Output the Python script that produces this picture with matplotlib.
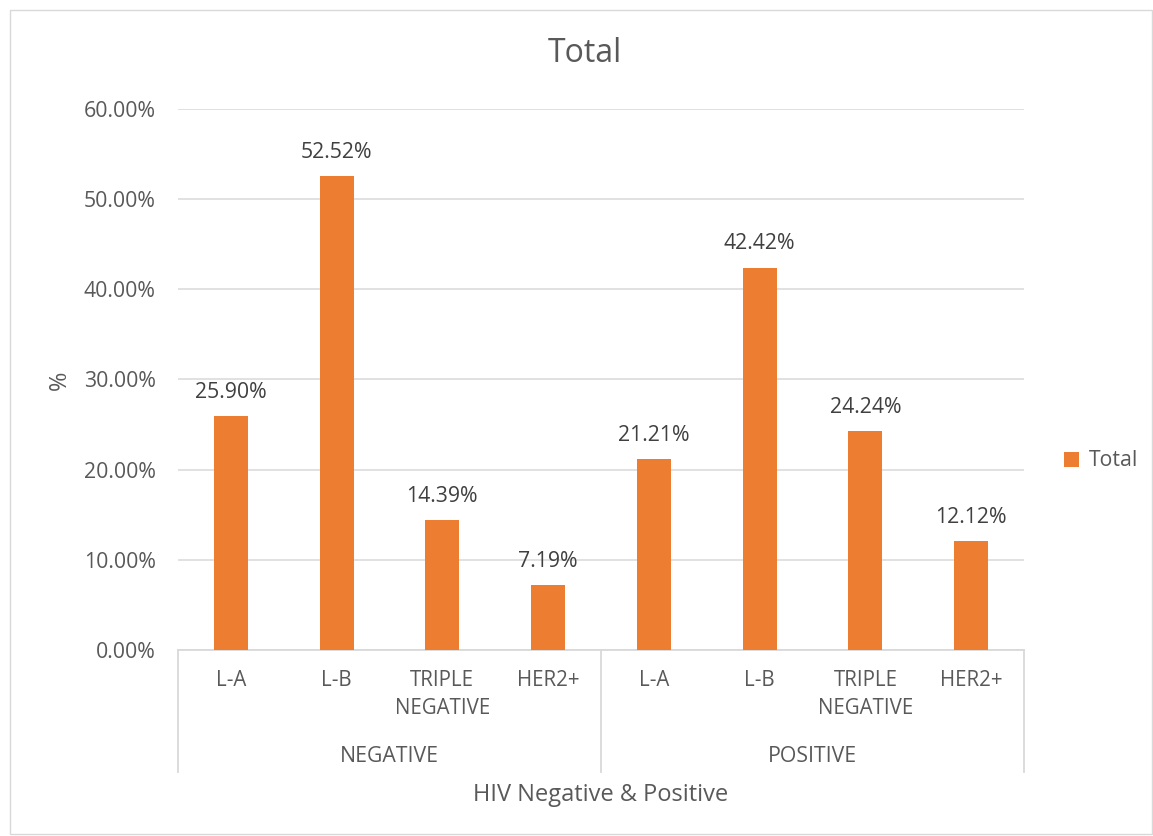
import matplotlib
matplotlib.use("Agg")
import matplotlib.pyplot as plt
from matplotlib.lines import Line2D
from matplotlib.patches import Rectangle, Patch
import matplotlib.transforms as mtransforms

groups = ["NEGATIVE", "POSITIVE"]
subtypes = ["L-A", "L-B", "TRIPLE\nNEGATIVE", "HER2+"]
values_negative = [25.90, 52.52, 14.39, 7.19]
values_positive = [21.21, 42.42, 24.24, 12.12]
yticks = [0, 10, 20, 30, 40, 50, 60]

W, H = 1153, 836
FONT = "Open Sans"
TXT = "#595959"
BAR = "#ED7D31"
GRID = "#D9D9D9"
FS = 15.3

plt.rcParams['font.family'] = [FONT, 'DejaVu Sans']

fig = plt.figure(figsize=(W / 100, H / 100), dpi=100)

def fx(px):
    return px / W

def fy(py):
    return 1 - py / H

ax = fig.add_axes([fx(178), fy(650), fx(1024) - fx(178), fy(109) - fy(650)])

values = values_negative + values_positive
labels = subtypes + subtypes
x = list(range(len(values)))
ax.bar(x, values, width=0.32, color=BAR, zorder=3, label="Total")
ax.set_xlim(-0.5, len(values) - 0.5)
ax.set_ylim(0, 60)
ax.set_yticks(yticks)
ax.set_yticklabels([f"{v:.2f}%" for v in yticks], fontsize=FS, color=TXT)
ax.tick_params(axis='y', length=0, pad=16)
ax.set_xticks([])
ax.grid(axis='y', color=GRID, linewidth=1.1, zorder=0)
for s in ["top", "right", "left"]:
    ax.spines[s].set_visible(False)
ax.spines["bottom"].set_color(GRID)
ax.spines["bottom"].set_linewidth(1.3)

for xi, v in zip(x, values):
    ax.annotate(f"{v:.2f}%", (xi, v), xytext=(0, 17), textcoords="offset points",
                ha="center", va="center", fontsize=FS, color="#404040")

# multi-level category axis
trans = mtransforms.blended_transform_factory(ax.transData, fig.transFigure)
for xi, lab in zip(x, labels):
    fig.text(xi, fy(670), lab, transform=trans, ha="center", va="top",
             fontsize=FS - 0.5, color=TXT, linespacing=1.45)
for gi, g in enumerate(groups):
    center = gi * 4 + 1.5
    fig.text(center, fy(756), g, transform=trans, ha="center", va="center",
             fontsize=FS, color=TXT)
for b in [-0.5, 3.5, 7.5]:
    fig.add_artist(Line2D([b, b], [fy(650), fy(772)], transform=trans,
                          color=GRID, linewidth=1.3))

fig.text(0.5 * (fx(178) + fx(1024)), fy(795), "HIV Negative & Positive",
         ha="center", va="center", fontsize=17, color=TXT)
fig.text(fx(60), fy(380), "%", rotation=90, ha="center", va="center",
         fontsize=17, color=TXT)
fig.text(fx(585), fy(54), "Total", ha="center", va="center",
         fontsize=23, color=TXT)

leg = fig.legend(handles=[Patch(facecolor=BAR, label="Total")],
                 loc="center left", bbox_to_anchor=(fx(1045), fy(461)),
                 frameon=False, fontsize=FS, handlelength=0.7, handleheight=0.7,
                 handletextpad=0.45)
for t in leg.get_texts():
    t.set_color(TXT)

fig.add_artist(Rectangle((fx(10), fy(834)), fx(1152) - fx(10), fy(10) - fy(834),
                         transform=fig.transFigure, fill=False,
                         edgecolor=GRID, linewidth=1))

fig.savefig("out.png", dpi=100, facecolor="white")
